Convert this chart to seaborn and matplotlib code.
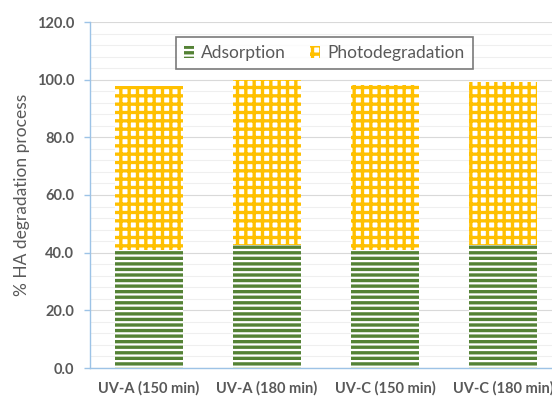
import matplotlib
matplotlib.use("Agg")
import matplotlib.pyplot as plt
import seaborn as sns
import pandas as pd
from matplotlib.patches import Patch
from matplotlib.ticker import MultipleLocator

categories = ["UV-A (150 min)", "UV-A (180 min)", "UV-C (150 min)", "UV-C (180 min)"]
adsorption = [40.9, 42.8, 40.9, 42.6]
photodegradation = [56.8, 57.1, 57.2, 56.7]
series_names = ["Adsorption", "Photodegradation"]
yticks = [0, 20, 40, 60, 80, 100, 120]

green = "#548235"
gold = "#FFC000"
gray = "#595959"
blue = "#9DC3E6"

sns.set_style("white")
plt.rcParams["font.family"] = ["Lato", "DejaVu Sans"]
plt.rcParams["hatch.linewidth"] = 2.4

df = pd.DataFrame({"cat": categories, "ads": adsorption, "photo": photodegradation})
df["total"] = df["ads"] + df["photo"]

fig = plt.figure(figsize=(5.52, 4.01), dpi=100)
ax = fig.add_axes([90 / 552, 1 - 368 / 401, 472 / 552, (368 - 22) / 401])

sns.barplot(data=df, x="cat", y="total", ax=ax, width=0.57, color="white", zorder=2)
n = len(categories)
for p in ax.patches[:n]:
    p.set_facecolor("white")
    p.set_edgecolor(gold)
    p.set_hatch("++")
    p.set_linewidth(0)
sns.barplot(data=df, x="cat", y="ads", ax=ax, width=0.57, color="white", zorder=3)
for p in ax.patches[n:]:
    p.set_facecolor("white")
    p.set_edgecolor(green)
    p.set_hatch("---")
    p.set_linewidth(0)

ax.set_ylim(0, 120)
ax.set_yticks(yticks)
ax.set_yticklabels([f"{v:.1f}" for v in yticks], fontsize=10.5, fontweight="bold", color=gray)
ax.yaxis.set_minor_locator(MultipleLocator(4))
ax.grid(axis="y", which="major", color="#D9D9D9", linewidth=0.8, zorder=0)
ax.grid(axis="y", which="minor", color="#EFEFEF", linewidth=0.8, zorder=0)
ax.set_axisbelow(True)
ax.tick_params(axis="y", which="major", left=True, length=4.3, color=blue, width=1, pad=7)
ax.tick_params(axis="y", which="minor", left=False)
ax.tick_params(axis="x", bottom=False, pad=6)
ax.set_xticks(range(n))
ax.set_xticklabels(categories, fontsize=10.5, fontweight="bold", color=gray)
ax.set_xlabel("")
ax.set_ylabel("% HA degradation process", fontsize=12.5, color=gray, labelpad=5)
for s in ["top", "right"]:
    ax.spines[s].set_visible(False)
for s in ["left", "bottom"]:
    ax.spines[s].set_color(blue)
    ax.spines[s].set_linewidth(1)

handles = [
    Patch(facecolor="white", edgecolor=green, hatch="---", linewidth=0, label=series_names[0]),
    Patch(facecolor="white", edgecolor=gold, hatch="++", linewidth=0, label=series_names[1]),
]
leg = ax.legend(handles=handles, loc="upper center", bbox_to_anchor=(0.496, 0.982), ncol=2,
                frameon=True, fancybox=False, fontsize=12.5, handlelength=0.6, handleheight=0.7,
                handletextpad=0.4, columnspacing=1.4, borderpad=0.45)
leg.get_frame().set_edgecolor("#595959")
leg.get_frame().set_linewidth(1.2)
for t in leg.get_texts():
    t.set_color(gray)

fig.savefig("out.png", dpi=100)
